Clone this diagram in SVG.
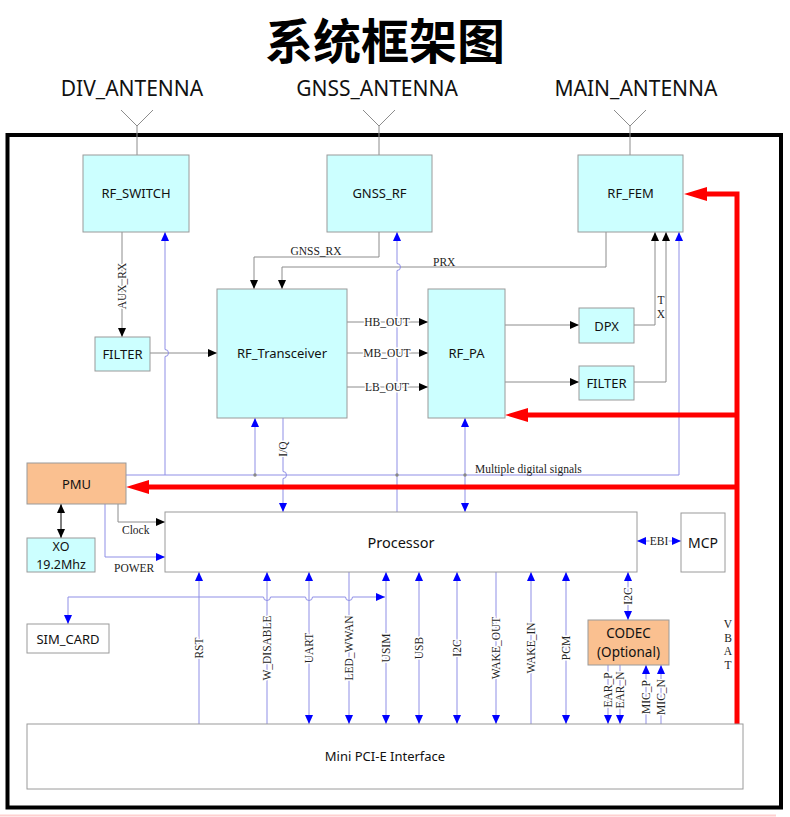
<svg xmlns="http://www.w3.org/2000/svg" width="790" height="817" viewBox="0 0 790 817">
<style>
.box{stroke:#9a9a9a;stroke-width:1}
.cy{fill:#ccffff}
.pe{fill:#fac090}
.wh{fill:#fff}
.bl{font-family:"Noto Sans","Open Sans",sans-serif;font-size:13px;fill:#111;text-anchor:middle;dominant-baseline:central}
.big{font-size:14.5px}
.md{font-size:14px}
.sm{font-size:13.5px}
.xs{font-size:12.5px}
.ant{font-family:"Noto Sans","Open Sans",sans-serif;font-size:21px;fill:#111;text-anchor:middle}
.sl{font-family:"Liberation Serif",serif;font-size:11.5px;fill:#222;dominant-baseline:central}
.c{text-anchor:middle}
.halo{stroke:#fff;stroke-width:3;paint-order:stroke;stroke-linejoin:round}
.g{fill:none;stroke:#8c8c8c;stroke-width:1}
.k{fill:none;stroke:#000;stroke-width:1}
.b{fill:none;stroke:#8f8fe6;stroke-width:1}
.r{fill:none;stroke:#ff0000;stroke-width:5}
.rh{fill:#ff0000}
.ae{marker-end:url(#ak)}
.aee{marker-start:url(#ak);marker-end:url(#ak)}
.be{marker-end:url(#ab)}
.bee{marker-start:url(#ab);marker-end:url(#ab)}
</style>
<defs>
<marker id="ak" viewBox="0 0 10 10" refX="10" refY="5" markerUnits="userSpaceOnUse" markerWidth="9" markerHeight="8" preserveAspectRatio="none" orient="auto-start-reverse"><path d="M0,0L10,5L0,10z" fill="#000"/></marker>
<marker id="ab" viewBox="0 0 10 10" refX="10" refY="5" markerUnits="userSpaceOnUse" markerWidth="9" markerHeight="8" preserveAspectRatio="none" orient="auto-start-reverse"><path d="M0,0L10,5L0,10z" fill="#0000ff"/></marker>
</defs>
<rect width="790" height="817" fill="#fff"/>
<text x="385" y="59" font-family="Noto Sans CJK SC,sans-serif" font-size="48" font-weight="bold" text-anchor="middle" fill="#000">系统框架图</text>
<rect x="7.5" y="135" width="773.5" height="672.5" fill="none" stroke="#000" stroke-width="4"/>
<line x1="0" y1="815.5" x2="776" y2="815.5" stroke="#ffd0d0" stroke-width="2"/>

<g id="antennas">
<g id="div_antenna"><path class="g" d="M121,110L137,126L153,110M137,126L137,155"/><text class="ant" x="132" y="96">DIV_ANTENNA</text></g>
<g id="gnss_antenna"><path class="g" d="M363,110L379,126L395,110M379,126L379,155"/><text class="ant" x="377" y="96">GNSS_ANTENNA</text></g>
<g id="main_antenna"><path class="g" d="M614,110L630,126L646,110M630,126L630,155"/><text class="ant" x="636" y="96">MAIN_ANTENNA</text></g>
</g>

<g id="connectors">
<path class="g ae" d="M122,232L122,337"/>
<path class="g ae" d="M379,232L379,257L254,257L254,289"/>
<path class="g ae" d="M606,232L606,267L282,267L282,289"/>
<path class="g ae" d="M150,353L217,353"/>
<path class="g ae" d="M347,322L428,322"/>
<path class="g ae" d="M347,353L428,353"/>
<path class="g ae" d="M347,387L428,387"/>
<path class="g ae" d="M505,325L579,325"/>
<path class="g ae" d="M505,382L579,382"/>
<path class="g ae" d="M634,325L655,325L655,232"/>
<path class="g ae" d="M634,382L666,382L666,232"/>
<path class="k aee" d="M61,504L61,538"/>
<path class="g ae" d="M118,504L118,522L165,522"/>
<path class="b" d="M126,475L679,475"/>
<path class="b be" d="M165,475L165,356.5A3.5,3.5 0 0 0 165,349.5L165,232"/>
<path class="b be" d="M255,475L255,418"/>
<path class="b be" d="M397,512L397,270.5A3.5,3.5 0 0 0 397,263.5L397,232"/>
<path class="b be" d="M283,418L283,471.5A3.5,3.5 0 0 1 283,478.5L283,512"/>
<path class="b bee" d="M465,418L465,512"/>
<path class="b be" d="M679,475L679,232"/>
<circle cx="255" cy="475" r="1.7" fill="#888"/>
<circle cx="397" cy="475" r="1.7" fill="#888"/>
<circle cx="465" cy="475" r="1.7" fill="#888"/>
<path class="b be" d="M105,504L105,557L165,557"/>
<path class="b bee" d="M637,541L681,541"/>
<path class="b bee" d="M628,572L628,620"/>
<path class="b bee" d="M68,624L68,597L263.5,597A3.5,3.5 0 0 0 270.5,597L305.5,597A3.5,3.5 0 0 0 312.5,597L345.5,597A3.5,3.5 0 0 0 352.5,597L385,597"/>
<path class="b be" d="M199,724L199,572"/>
<path class="b be" d="M267,724L267,572"/>
<path class="b bee" d="M309,724L309,572"/>
<path class="b be" d="M349,572L349,724"/>
<path class="b bee" d="M386,724L386,572"/>
<path class="b bee" d="M419,724L419,572"/>
<path class="b bee" d="M457,724L457,572"/>
<path class="b be" d="M496,572L496,724"/>
<path class="b be" d="M531,724L531,572"/>
<path class="b bee" d="M566,724L566,572"/>
<path class="b be" d="M608,665L608,724"/>
<path class="b be" d="M620,665L620,724"/>
<path class="b be" d="M646,724L646,665"/>
<path class="b be" d="M661,724L661,665"/>
<path class="r" d="M737,724L737,194L706,194"/>
<polygon class="rh" points="684,194 707,187 707,201"/>
<path class="r" d="M737,415L527,415"/>
<polygon class="rh" points="505,415 528,408 528,422"/>
<path class="r" d="M737,487L148,487"/>
<polygon class="rh" points="126,487 149,480 149,494"/>
</g>

<g id="connector-labels">
<text class="sl c" x="316" y="251">GNSS_RX</text>
<text class="sl" x="433" y="262">PRX</text>
<text class="sl c halo" transform="translate(122,286) rotate(-90)">AUX_RX</text>
<text class="sl c halo" x="387" y="322">HB_OUT</text>
<text class="sl c halo" x="387" y="353">MB_OUT</text>
<text class="sl c halo" x="387" y="387">LB_OUT</text>
<text class="sl c" x="661" y="300">T</text>
<text class="sl c" x="661" y="314">X</text>
<text class="sl c halo" transform="translate(283,449) rotate(-90)">I/Q</text>
<text class="sl" x="475" y="469">Multiple digital signals</text>
<text class="sl" x="122" y="530">Clock</text>
<text class="sl" x="114" y="568">POWER</text>
<text class="sl c halo" x="659" y="541">EBI</text>
<text class="sl c halo" transform="translate(628,596) rotate(-90)">I2C</text>
<text class="sl c halo" transform="translate(199,648) rotate(-90)">RST</text>
<text class="sl c halo" transform="translate(267,648) rotate(-90)">W_DISABLE</text>
<text class="sl c halo" transform="translate(309,648) rotate(-90)">UART</text>
<text class="sl c halo" transform="translate(349,648) rotate(-90)">LED_WWAN</text>
<text class="sl c halo" transform="translate(386,648) rotate(-90)">USIM</text>
<text class="sl c halo" transform="translate(419,648) rotate(-90)">USB</text>
<text class="sl c halo" transform="translate(457,648) rotate(-90)">I2C</text>
<text class="sl c halo" transform="translate(496,648) rotate(-90)">WAKE_OUT</text>
<text class="sl c halo" transform="translate(531,648) rotate(-90)">WAKE_IN</text>
<text class="sl c halo" transform="translate(566,648) rotate(-90)">PCM</text>
<text class="sl c halo" transform="translate(608,690) rotate(-90)">EAR_P</text>
<text class="sl c halo" transform="translate(620,690) rotate(-90)">EAR_N</text>
<text class="sl c halo" transform="translate(646,697) rotate(-90)">MIC_P</text>
<text class="sl c halo" transform="translate(661,697) rotate(-90)">MIC_N</text>
<text class="sl c" x="728" y="624"><tspan x="728" y="624">V</tspan><tspan x="728" y="637.5">B</tspan><tspan x="728" y="651">A</tspan><tspan x="728" y="664.5">T</tspan></text>
</g>

<g id="rf_switch"><rect class="box cy" x="83" y="155" width="106" height="77"/><text class="bl" x="136" y="193">RF_SWITCH</text></g>
<g id="gnss_rf"><rect class="box cy" x="327" y="155" width="105" height="77"/><text class="bl" x="379.5" y="193">GNSS_RF</text></g>
<g id="rf_fem"><rect class="box cy" x="578" y="155" width="105" height="77"/><text class="bl" x="630.5" y="193">RF_FEM</text></g>
<g id="filter_rx"><rect class="box cy" x="95" y="337" width="55" height="34"/><text class="bl" x="122.5" y="354">FILTER</text></g>
<g id="rf_transceiver"><rect class="box cy" x="217" y="289" width="130" height="129"/><text class="bl" x="282" y="353">RF_Transceiver</text></g>
<g id="rf_pa"><rect class="box cy" x="428" y="289" width="77" height="129"/><text class="bl" x="466.5" y="353">RF_PA</text></g>
<g id="dpx"><rect class="box cy" x="579" y="308" width="55" height="35"/><text class="bl" x="606.5" y="325.5">DPX</text></g>
<g id="filter_tx"><rect class="box cy" x="579" y="366" width="55" height="34"/><text class="bl" x="606.5" y="383">FILTER</text></g>
<g id="pmu"><rect class="box pe" x="27" y="463" width="99" height="41"/><text class="bl" x="76.5" y="483.5">PMU</text></g>
<g id="xo"><rect class="box cy" x="27" y="538" width="68" height="34"/><text class="bl xs" x="61" y="546"><tspan x="61" y="546">XO</tspan><tspan x="61" y="564">19.2Mhz</tspan></text></g>
<g id="processor"><rect class="box wh" x="165" y="512" width="472" height="60"/><text class="bl big" x="401" y="542">Processor</text></g>
<g id="mcp"><rect class="box wh" x="681" y="513" width="44" height="59"/><text class="bl md" x="703" y="542">MCP</text></g>
<g id="codec"><rect class="box pe" x="588" y="620" width="81" height="45"/><text class="bl sm" x="628.5" y="633"><tspan x="628.5" y="633">CODEC</tspan><tspan x="628.5" y="651.5">(Optional)</tspan></text></g>
<g id="sim_card"><rect class="box wh" x="27" y="624" width="82" height="29"/><text class="bl" x="68" y="638.5">SIM_CARD</text></g>
<g id="mini_pcie"><rect class="box wh" x="27" y="724" width="716" height="65"/><text class="bl" x="385" y="756">Mini PCI-E Interface</text></g>
</svg>
